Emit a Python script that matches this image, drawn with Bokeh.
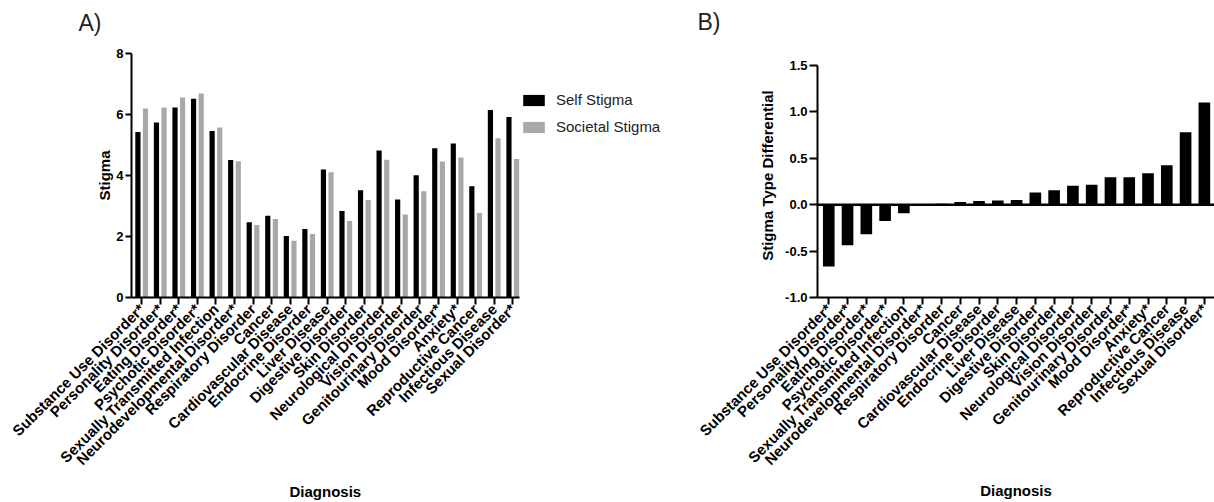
from math import pi
from bokeh.plotting import figure
from bokeh.layouts import row
from bokeh.models import (ColumnDataSource, FixedTicker, Range1d, Legend, LegendItem,
                          Span, Title, NumeralTickFormatter)
from bokeh.transform import dodge
from bokeh.embed import file_html
from bokeh.resources import INLINE

categories = [
    "Substance Use Disorder*", "Personality Disorder*", "Eating Disorder*",
    "Psychotic Disorder*", "Sexually Transmitted Infection", "Neurodevelopmental Disorder*",
    "Respiratory Disorder", "Cancer", "Cardiovascular Disease", "Endocrine Disorder",
    "Liver Disease", "Digestive Disorder", "Skin Disorder", "Neurological Disorder",
    "Vision Disorder", "Genitourinary Disorder", "Mood Disorder*", "Anxiety*",
    "Reproductive Cancer", "Infectious Disease", "Sexual Disorder*",
]
self_stigma = [5.43, 5.74, 6.23, 6.52, 5.46, 4.51, 2.47, 2.68, 2.02, 2.25, 4.20,
               2.84, 3.52, 4.82, 3.21, 4.01, 4.89, 5.05, 3.65, 6.15, 5.92]
societal_stigma = [6.20, 6.23, 6.56, 6.69, 5.57, 4.47, 2.38, 2.57, 1.86, 2.08, 4.11,
                   2.51, 3.20, 4.52, 2.72, 3.48, 4.46, 4.59, 2.77, 5.22, 4.54]
differential = [-0.665, -0.436, -0.318, -0.177, -0.092, 0.005, 0.01, 0.03, 0.04, 0.045,
                0.05, 0.13, 0.155, 0.205, 0.215, 0.295, 0.295, 0.34, 0.425, 0.78, 1.10]
left_ticks = [0, 2, 4, 6, 8]
right_ticks = [-1.0, -0.5, 0.0, 0.5, 1.0, 1.5]

FONT = "Liberation Sans"
idx = list(range(len(categories)))
overrides = {i: c for i, c in enumerate(categories)}

src = ColumnDataSource(dict(x=idx, self=self_stigma, soc=societal_stigma, diff=differential))


def style(p, yticks):
    p.xgrid.visible = False
    p.ygrid.visible = False
    p.outline_line_color = None
    p.background_fill_color = "white"
    p.border_fill_color = "white"
    for ax in (p.xaxis, p.yaxis):
        ax.axis_line_width = 2
        ax.axis_line_color = "black"
        ax.major_tick_line_width = 2
        ax.major_tick_line_color = "black"
        ax.major_tick_in = 0
        ax.minor_tick_in = 0
        ax.minor_tick_out = 0
        ax.major_label_text_font = FONT
        ax.major_label_text_font_style = "bold"
        ax.major_label_text_color = "black"
        ax.axis_label_text_font = FONT
        ax.axis_label_text_font_style = "bold"
        ax.axis_label_text_font_size = "15px"
        ax.axis_label_text_color = "black"
        ax.major_label_standoff = 2
    p.xaxis.ticker = FixedTicker(ticks=idx)
    p.xaxis.major_label_overrides = overrides
    p.xaxis.major_label_orientation = pi / 4
    p.xaxis.major_label_text_font_size = "15px"
    p.xaxis.major_tick_out = 7
    p.yaxis.ticker = FixedTicker(ticks=yticks)
    p.yaxis.major_label_text_font_size = "13px"


def panel_title(p, text, offset, gap):
    # spacer title keeps the panel letter up in the corner, away from the frame
    p.add_layout(Title(text=" ", text_font_size="1px", standoff=gap), "above")
    p.add_layout(Title(text=text, text_font=FONT, text_font_size="23px",
                       text_font_style="normal", align="left", offset=offset,
                       standoff=2, text_color="#222222"), "above")


# ---------- Panel A ----------
# frame runs on to the right edge so the legend can sit beside the bars;
# the x axis itself is bounded to the bar region
p1 = figure(width=690, height=502, x_range=Range1d(-0.55, 29.58), y_range=Range1d(0, 8),
            output_backend="svg", toolbar_location=None,
            min_border_left=131, min_border_right=0, min_border_top=53, min_border_bottom=205)
style(p1, left_ticks)
p1.xaxis.bounds = (-0.55, 20.37)
p1.yaxis.major_tick_out = 6
p1.yaxis.axis_label = "Stigma"
p1.yaxis.axis_label_standoff = 0
# x-axis title centred under the bar region (not under the whole frame)
p1.add_layout(Title(text="Diagnosis", text_font=FONT, text_font_size="15px",
                    text_font_style="bold", align="left", offset=158, standoff=6,
                    text_color="black"), "below")

r_self = p1.vbar(x=dodge("x", -0.205, range=p1.x_range), top="self", width=0.28, bottom=0,
                 source=src, fill_color="black", line_color=None)
r_soc = p1.vbar(x=dodge("x", 0.205, range=p1.x_range), top="soc", width=0.28, bottom=0,
                source=src, fill_color="#a8a8aa", line_color=None)

legend = Legend(items=[LegendItem(label="Self Stigma", renderers=[r_self]),
                       LegendItem(label="Societal Stigma", renderers=[r_soc])],
                location=(389, 162), padding=0, margin=0, spacing=10,
                glyph_width=27, glyph_height=14, label_height=14, label_standoff=9,
                label_text_font=FONT, label_text_font_size="15px", label_text_color="#222222",
                border_line_color=None, background_fill_alpha=0)
p1.add_layout(legend, "center")
panel_title(p1, "A)", -53, 14)

# ---------- Panel B ----------
p2 = figure(width=524, height=502, x_range=Range1d(-0.6, 20.54), y_range=Range1d(-1.0, 1.629),
            output_backend="svg", toolbar_location=None,
            min_border_left=127, min_border_right=0, min_border_top=53, min_border_bottom=205)
style(p2, right_ticks)
p2.xaxis.axis_label = "Diagnosis"
p2.xaxis.axis_label_standoff = 5
p2.yaxis.bounds = (-1.0, 1.5)
p2.yaxis.major_tick_out = 8
p2.yaxis.formatter = NumeralTickFormatter(format="0.0")
p2.yaxis.axis_label = "Stigma Type Differential"
p2.yaxis.axis_label_standoff = 6

p2.vbar(x="x", top="diff", bottom=0, width=0.62, source=src, fill_color="black", line_color=None)
p2.add_layout(Span(location=0, dimension="width", line_color="black", line_width=2.5))
panel_title(p2, "B)", -120, 15)

layout = row(p1, p2)
open("out.html", "w").write(file_html(layout, INLINE))
